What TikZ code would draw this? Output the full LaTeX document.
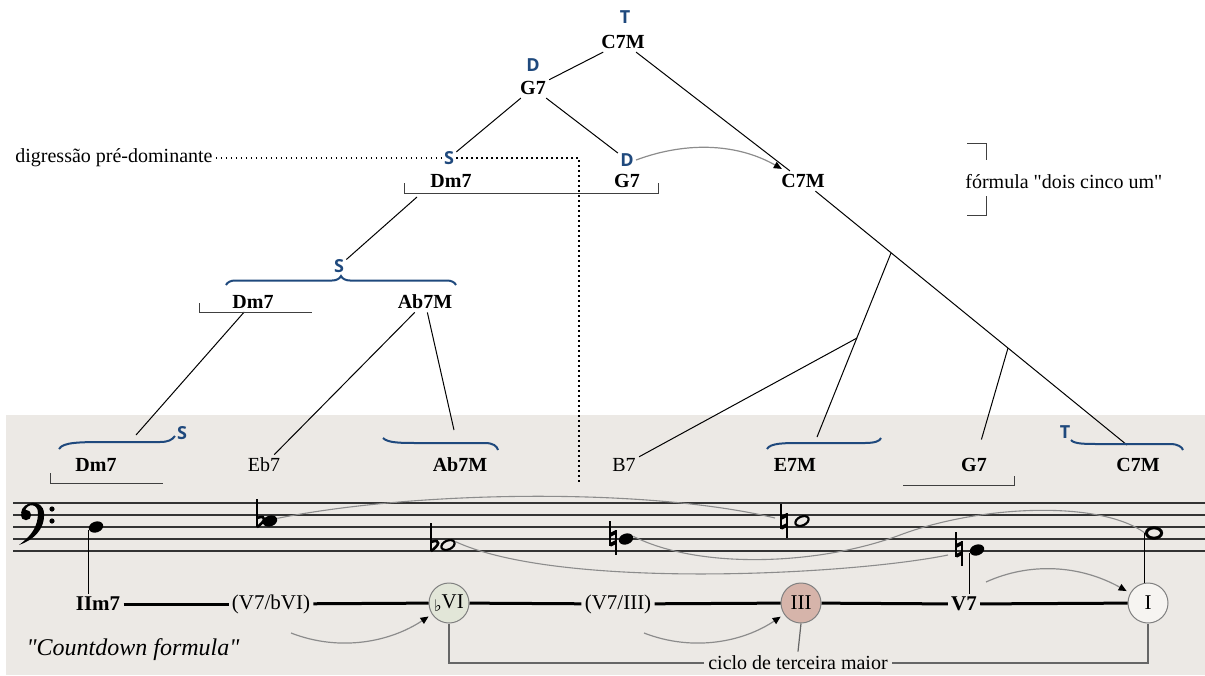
\documentclass[tikz,border=0pt]{standalone}
\usepackage{fontspec}
\setmainfont{Liberation Serif}[Ligatures=TeXOff]
\newfontfamily\labfont{Open Sans}
\newfontfamily\musfont{DejaVu Sans}
\usepackage{xcolor}
\usepackage{tikz}
\usetikzlibrary{positioning,shapes.geometric,arrows.meta,decorations.pathreplacing,calc}

\definecolor{funcblue}{RGB}{31,73,125}
\definecolor{panel}{RGB}{236,233,229}
\definecolor{greencirc}{RGB}{226,230,216}
\definecolor{pinkcirc}{RGB}{214,180,170}
\definecolor{whitecirc}{RGB}{246,244,241}
\definecolor{slurgray}{RGB}{140,140,140}

\tikzset{
    flatsign/.pic={
        \draw[line width=0.7pt] (0,-22) -- (0,6);
        \draw[line width=1.3pt] (0,6) .. controls (8,1) and (11,-7) .. (0,-3);
    },
    naturalsign/.pic={
        \draw[line width=0.7pt] (-3,-17) -- (-3,8) (3,-8) -- (3,17);
        \draw[line width=1.8pt] (-3,-3) -- (3,-6) (-3,7) -- (3,4);
    }
}

\begin{document}
\begin{tikzpicture}[
    x=0.5pt, y=-0.5pt,
    every node/.style={font=\fontsize{10}{12}\selectfont, inner sep=1.5pt},
    chord/.style={font=\fontsize{10}{12}\selectfont\bfseries},
    textlab/.style={font=\fontsize{10}{12}\selectfont},
    func/.style={
        font={\labfont\bfseries\fontsize{9}{10}\selectfont},
        text=funcblue,
        inner sep=1pt
    },
    branch/.style={line width=0.5pt},
    brk/.style={line width=0.5pt, black!75},
    tie/.style={line width=1pt, funcblue},
    dotline/.style={line width=0.7pt, dash pattern=on 0.7pt off 1.8pt},
    slur/.style={line width=0.55pt, slurgray},
    curarrow/.style={
        line width=0.6pt,
        slurgray,
        -{Triangle[length=4pt,width=3.5pt,color=black]},
        shorten >=2pt
    },
    route/.style={line width=1.5pt},
    cycline/.style={line width=0.6pt, black!60},
    degree/.style={
        circle,
        draw=black!50,
        line width=0.5pt,
        minimum size=20pt,
        inner sep=0pt,
        font=\fontsize{10.5}{12}\selectfont
    },
    fillhead/.style={ellipse, fill=black, minimum width=7.4pt, minimum height=5.4pt, inner sep=0pt, rotate=20},
    openhead/.style={ellipse, draw=black, line width=1.1pt, minimum width=7pt, minimum height=4.4pt, inner sep=0pt, rotate=25},
    wholehead/.style={ellipse, draw=black, line width=1.5pt, minimum width=7.6pt, minimum height=5.2pt, inner sep=0pt},
    notestem/.style={line width=0.5pt}
]
\useasboundingbox (0,0) rectangle (1205,675);

% Shaded panel behind the lower row
\fill[panel] (6,415) rectangle (1205,675);

% Upper tree
\node[func]  (tTop)  at (625,17)  {T};
\node[chord] (cTop)  at (623,42)  {C7M};
\node[func]  (dTop)  at (533,65)  {D};
\node[chord] (gTop)  at (533,88)  {G7};
\node[func]  (sDig)  at (449,158) {S};
\node[chord] (dmMid) at (451,181) {Dm7};
\node[func]  (dMid)  at (627,160) {D};
\node[chord] (gMid)  at (627,181) {G7};
\node[chord] (cMid)  at (803,181) {C7M};

\node[textlab, anchor=west] (dig)     at (12,158)  {digressão pré-dominante};
\node[textlab, anchor=west] (formula) at (962,182) {fórmula "dois cinco um"};

\node[func]  (sUp)  at (339,266) {S};
\node[chord] (dmUp) at (253,302) {Dm7};
\node[chord] (abUp) at (425,302) {Ab7M};

% Lower row of chords
\node[func]    (sLow)  at (182,433)  {S};
\node[chord]   (dmLow) at (96,465)   {Dm7};
\node[textlab] (ebLow) at (264,465)  {Eb7};
\node[chord]   (abLow) at (460,465)  {Ab7M};
\node[textlab] (bLow)  at (624,465)  {B7};
\node[chord]   (eLow)  at (795,465)  {E7M};
\node[chord]   (gLow)  at (974,465)  {G7};
\node[func]    (tLow)  at (1065,432) {T};
\node[chord]   (cLow)  at (1138,465) {C7M};

% Branch points and brace tips
\coordinate (brkA)    at (417,197);
\coordinate (sLowTip) at (136,435);
\coordinate (abTie)   at (454,430);
\coordinate (eTie)    at (817,437);
\coordinate (cTie)    at (1127,445);
\coordinate (brR1)    at (891,253);
\coordinate (brR2)    at (1008,348);
\coordinate (brR3)    at (857,338);
\coordinate (dotCorner) at (579,158);
\coordinate (dotEnd)    at (579,482);

% Tree lines
\draw[branch] (cTop) -- (gTop);
\draw[branch] (cTop) -- (cMid);
\draw[branch] (gTop) -- (sDig);
\draw[branch] (gTop) -- (dMid);
\draw[branch] (brkA) -- (sUp);
\draw[branch] (dmUp) -- (sLowTip);
\draw[branch] (abUp) -- (ebLow);
\draw[branch] (abUp) -- (abTie);
\draw[branch] (cMid) -- (cTie);
\draw[branch] (brR1) -- (eTie);
\draw[branch] (brR3) -- (bLow);
\draw[branch, shorten >=8pt] (brR2) -- (gLow);

\draw[curarrow] (dMid.east) .. controls (690,140) and (740,145) .. (cMid);

% Dotted digression
\draw[dotline] (dig.east) -- (sDig.west);
\draw[dotline] (sDig.east) -- (dotCorner) -- (dotEnd);

% Brackets
\draw[brk] (404,183) |- (658,193) -- (658,183);
\draw[brk] (199,303) |- (312,312);
\draw[brk] (50,473) |- (163,483);
\draw[brk] (903,485) -| (1014,476);
\draw[brk] (967,143) -| (986,160);
\draw[brk] (986,196) |- (967,215);

% Braces
\draw[tie, decorate, decoration={brace, amplitude=4.5pt}] (226,285) -- (456,285);
\draw[tie] (59,449) .. controls (63,442) and (80,442) .. (110,442) -- (160,442) .. controls (168,442) and (172,440) .. (175,436);
\draw[tie] (383,438) .. controls (388,443) and (400,443) .. (420,443) -- (485,443) .. controls (493,443) and (497,446) .. (498,450);
\draw[tie] (767,449) .. controls (770,443) and (785,443) .. (800,443) -- (865,443) .. controls (875,443) and (880,441) .. (881,438);
\draw[tie] (1071,440) .. controls (1074,444) and (1085,444) .. (1100,444) -- (1170,444) .. controls (1178,444) and (1182,447) .. (1183,450);

% Staff
\foreach \y in {503,515,527,539,551}
    \draw[line width=0.6pt, black!80] (13,\y) -- (1205,\y);

% Bass clef
\fill (21,513) .. controls (22,501) and (43,498) .. (44,513) .. controls (45,530) and (33,540) .. (19,545)
    .. controls (31,536) and (38,527) .. (38,513) .. controls (38,503) and (27,503) .. (25,511) -- cycle;
\fill (26,515) circle (2.6pt);
\fill (52,509) circle (1.3pt);
\fill (52,521) circle (1.3pt);

% Notes
\node[fillhead]  (n1) at (96,527)   {};
\node[fillhead]  (n2) at (270,521)  {};
\node[openhead]  (n3) at (448,545)  {};
\node[fillhead]  (n4) at (626,539)  {};
\node[openhead]  (n5) at (802,521)  {};
\node[fillhead]  (n6) at (977,550)  {};
\node[wholehead] (n7) at (1154,533) {};

\coordinate (fl2) at (257,521);
\coordinate (fl3) at (431,545);
\coordinate (na4) at (613,538);
\coordinate (na5) at (784,521);
\coordinate (na6) at (959,549);
\pic at (fl2) {flatsign};
\pic at (fl3) {flatsign};
\pic at (na4) {naturalsign};
\pic at (na5) {naturalsign};
\pic at (na6) {naturalsign};

\coordinate (slurA) at (775,518);
\coordinate (slurB) at (948,555);
\coordinate (slurMid) at (900,535);
\draw[slur] (n2.east) .. controls (420,490) and (650,488) .. (slurA);
\draw[slur] (n3.east) .. controls (560,590) and (850,575) .. (slurB);
\draw[slur] (n4.east) .. controls (700,570) and (820,565) .. (slurMid)
    .. controls (980,505) and (1100,500) .. (n7.west);

% Countdown row
\node[chord, font=\fontsize{10.5}{12}\selectfont\bfseries] (iim) at (98,604) {IIm7};
\node[textlab, font=\fontsize{10.5}{12}\selectfont] (vbvi) at (271,604) {(V7/bVI)};
\node[degree, fill=greencirc] (bvi) at (449,603) {\raisebox{-1.5pt}{\musfont\fontsize{8}{8}\selectfont ♭}VI};
\node[textlab, font=\fontsize{10.5}{12}\selectfont] (viii) at (618,604) {(V7/III)};
\node[degree, fill=pinkcirc] (iii) at (801,603) {III};
\node[chord, font=\fontsize{10.5}{12}\selectfont\bfseries] (vsev) at (964,604) {V7};
\node[degree, fill=whitecirc] (tonic) at (1148,603) {I};

\foreach \a/\b in {iim/vbvi, vbvi/bvi, bvi/viii, viii/iii, iii/vsev, vsev/tonic}
    \draw[route] (\a) -- (\b);

\draw[notestem] (n1.west) -- (n1.west |- iim.north);
\draw[notestem] (n6.west) -- (n6.west |- vsev.north);
\draw[notestem] (n7.west) -- (n7.west |- tonic.north);

\coordinate (arrA) at (291,633);
\coordinate (arrB) at (644,633);
\coordinate (arrC) at (986,582);
\draw[curarrow] (arrA) .. controls (340,652) and (390,642) .. (bvi);
\draw[curarrow] (arrB) .. controls (693,652) and (743,642) .. (iii);
\draw[curarrow] (arrC) .. controls (1030,562) and (1080,565) .. (tonic);

\node[textlab, fill=panel, inner sep=2pt] (cyc) at (798,663) {ciclo de terceira maior};
\draw[cycline] (bvi.south) |- (cyc.west);
\draw[cycline] (cyc.east) -| (tonic.south);
\draw[cycline] (iii.south) -- (cyc.north);

\node[font=\fontsize{12}{14}\selectfont\itshape] (count) at (133,650) {"Countdown formula"};

\end{tikzpicture}
\end{document}
